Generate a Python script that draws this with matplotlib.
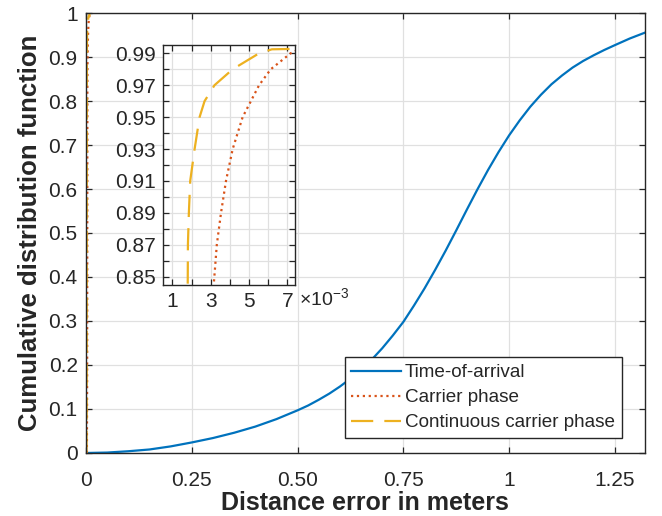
import matplotlib
matplotlib.use("Agg")
import matplotlib.pyplot as plt
from matplotlib import ticker

plt.rcParams["font.family"] = ["Liberation Sans", "DejaVu Sans"]
plt.rcParams["mathtext.fontset"] = "custom"
plt.rcParams["mathtext.rm"] = "Liberation Sans"

# Time-of-arrival CDF (distance error in m)
toa_x = [0.0, 0.05, 0.10, 0.15, 0.20, 0.25, 0.30, 0.35, 0.40, 0.45, 0.50, 0.525, 0.55, 0.575,
         0.60, 0.625, 0.65, 0.675, 0.70, 0.725, 0.75, 0.775, 0.80, 0.825, 0.85, 0.875, 0.90,
         0.925, 0.95, 0.975, 1.00, 1.025, 1.05, 1.075, 1.10, 1.125, 1.15, 1.175, 1.20, 1.225,
         1.25, 1.285, 1.32]
toa_y = [0.0, 0.001, 0.004, 0.008, 0.015, 0.024, 0.034, 0.046, 0.060, 0.077, 0.097, 0.108, 0.121,
         0.135, 0.151, 0.169, 0.189, 0.212, 0.238, 0.267, 0.298, 0.335, 0.374, 0.416, 0.460,
         0.506, 0.553, 0.599, 0.643, 0.684, 0.722, 0.756, 0.787, 0.814, 0.838, 0.858, 0.876,
         0.891, 0.904, 0.916, 0.927, 0.942, 0.955]

# Carrier phase CDF
cp_x = [0.0020, 0.0026, 0.0029, 0.0031, 0.00316, 0.00332, 0.00354, 0.0038, 0.00415,
        0.00467, 0.00553, 0.00614, 0.00718, 0.0076, 0.010, 0.016]
cp_y = [0.0, 0.2, 0.5, 0.75, 0.845, 0.87, 0.89, 0.91, 0.93,
        0.95, 0.97, 0.98, 0.99, 0.9925, 0.997, 1.0]

# Continuous carrier phase CDF
ccp_x = [0.0010, 0.0014, 0.0016, 0.0017, 0.0018, 0.00181, 0.00186, 0.00193, 0.00216,
         0.00242, 0.00268, 0.0032, 0.00415, 0.00553, 0.0062, 0.0075, 0.0085]
ccp_y = [0.0, 0.1, 0.4, 0.7, 0.845, 0.87, 0.89, 0.91, 0.93,
         0.95, 0.96, 0.97, 0.98, 0.99, 0.9925, 0.9928, 1.0]

labels = ["Time-of-arrival", "Carrier phase", "Continuous carrier phase"]
c_blue, c_red, c_yel = "#0072BD", "#D95319", "#EDB120"
txt = "#262626"

fig = plt.figure(figsize=(6.62, 5.16), dpi=100)
ax = fig.add_axes([0.130, 0.1221, 0.8436, 0.8527])

ax.plot(toa_x, toa_y, color=c_blue, lw=1.6, label=labels[0])
ax.plot(cp_x, cp_y, color=c_red, lw=1.6, ls=":", label=labels[1])
l3, = ax.plot(ccp_x, ccp_y, color=c_yel, lw=1.6, label=labels[2])
l3.set_dashes([10, 5])

ax.set_xlim(0, 1.32)
ax.set_ylim(0, 1)
ax.set_xticks([0, 0.25, 0.5, 0.75, 1.0, 1.25])
ax.set_xticklabels(["0", "0.25", "0.50", "0.75", "1", "1.25"])
ax.set_yticks([i / 10 for i in range(11)])
ax.set_yticklabels(["0"] + ["0.%d" % i for i in range(1, 10)] + ["1"])
ax.grid(True, color="#e0e0e0", lw=0.9)
ax.set_axisbelow(True)
ax.tick_params(axis="both", direction="in", top=True, right=True, length=4, width=0.9,
               labelsize=15, colors=txt)
ax.tick_params(axis="x", pad=13)
ax.tick_params(axis="y", pad=6)
for s in ax.spines.values():
    s.set_color(txt)
    s.set_linewidth(1.0)
ax.set_xlabel("Distance error in meters", fontsize=18, fontweight="bold", color=txt, labelpad=1)
ax.set_ylabel("Cumulative distribution function", fontsize=18.5, fontweight="bold", color=txt, labelpad=5)

leg = ax.legend(loc="lower right", bbox_to_anchor=(0.959, 0.034), borderaxespad=0,
                fontsize=13.6, handlelength=2.65, handletextpad=0.2, labelspacing=0.42,
                borderpad=0.35, fancybox=False, framealpha=1, edgecolor=txt)
leg.get_frame().set_linewidth(1.0)
for t in leg.get_texts():
    t.set_color(txt)

# inset zoom
ins = fig.add_axes([0.246, 0.4477, 0.1994, 0.4651])
ins.plot(cp_x, cp_y, color=c_red, lw=1.6, ls=":")
l3i, = ins.plot(ccp_x, ccp_y, color=c_yel, lw=1.6)
l3i.set_dashes([10, 5])
ins.set_xlim(0.5e-3, 7.4e-3)
ins.set_ylim(0.8448, 0.9952)
ins.set_xticks([1e-3, 3e-3, 5e-3, 7e-3])
ins.set_xticks([2e-3, 4e-3, 6e-3], minor=True)
ins.xaxis.set_major_formatter(ticker.FuncFormatter(lambda v, p: "%d" % round(v * 1e3)))
ins.set_yticks([0.85, 0.87, 0.89, 0.91, 0.93, 0.95, 0.97, 0.99])
ins.set_yticks([0.86, 0.88, 0.90, 0.92, 0.94, 0.96, 0.98], minor=True)
ins.grid(True, which="both", color="#e0e0e0", lw=0.9)
ins.set_axisbelow(True)
ins.tick_params(which="both", direction="in", top=True, right=True, length=4, width=0.9,
                labelsize=15, colors=txt, pad=5)
for s in ins.spines.values():
    s.set_color(txt)
    s.set_linewidth(1.0)
ins.text(1.035, -0.083, r"$\mathregular{\times10^{-3}}$", transform=ins.transAxes, fontsize=14,
         color=txt, ha="left", va="baseline")

fig.savefig("out.png", dpi=100)
